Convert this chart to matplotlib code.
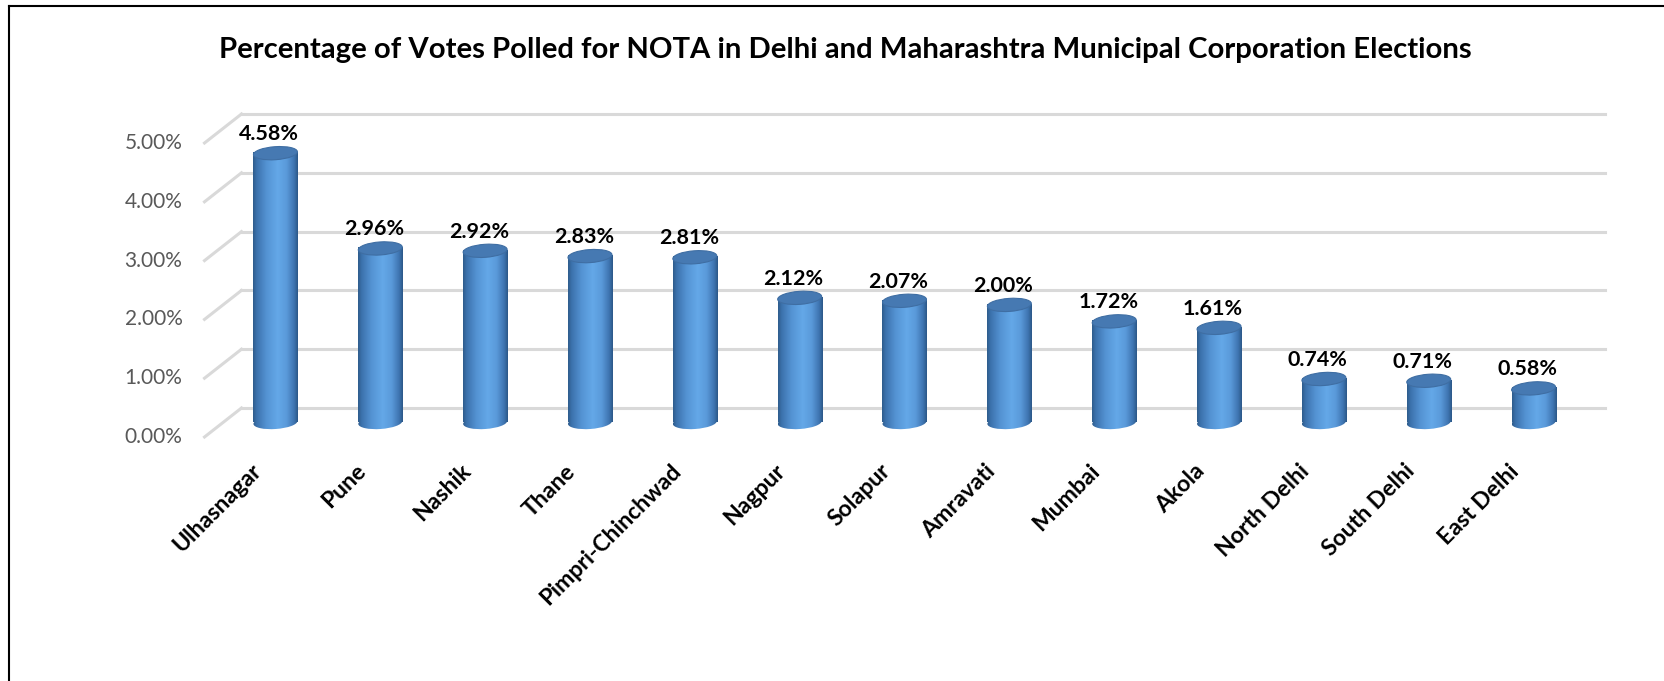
import numpy as np
import matplotlib
matplotlib.use("Agg")
import matplotlib.pyplot as plt
from matplotlib import transforms
from matplotlib.patches import Ellipse
from matplotlib.lines import Line2D

categories = ["Ulhasnagar", "Pune", "Nashik", "Thane", "Pimpri-Chinchwad", "Nagpur",
              "Solapur", "Amravati", "Mumbai", "Akola", "North Delhi", "South Delhi", "East Delhi"]
values = [4.58, 2.96, 2.92, 2.83, 2.81, 2.12, 2.07, 2.00, 1.72, 1.61, 0.74, 0.71, 0.58]
yticks = [0, 1, 2, 3, 4, 5]
ytick_labels = ["0.00%", "1.00%", "2.00%", "3.00%", "4.00%", "5.00%"]
title = "Percentage of Votes Polled for NOTA in Delhi and Maharashtra Municipal Corporation Elections"

plt.rcParams['font.family'] = ['Lato', 'DejaVu Sans']

W, H = 1664, 681
DPI = 100
fig = plt.figure(figsize=(W / DPI, H / DPI), dpi=DPI)
fig.patch.set_facecolor("white")
renderer = fig.canvas.get_renderer()


def fit_size(text, target_px, **kw):
    """Return a font size so that `text` is about target_px wide."""
    probe = fig.text(0, 0, text, fontsize=10, **kw)
    w = probe.get_window_extent(renderer).width
    probe.remove()
    return 10 * target_px / w


# axes in pixel coordinates (mid-depth plane); y range extended below 0 so the
# rounded cylinder bottoms stay inside the axes box
left_px, right_px = 223, 1586
y0_px, y5_px = 422.5, 128.5
px_per_unit_y = (y0_px - y5_px) / 5.0
y_min = -0.5
ybot_px = y0_px - y_min * px_per_unit_y
ax = fig.add_axes([left_px / W, (H - ybot_px) / H, (right_px - left_px) / W,
                   (ybot_px - y5_px) / H])
ax.set_xlim(-0.5, len(categories) - 0.5)
ax.set_ylim(y_min, 5)
ax.axis("off")

# depth offsets (pixels)
DX, DY = 18.5, 14.5
back = ax.transData + transforms.ScaledTranslation(DX / DPI, DY / DPI, fig.dpi_scale_trans)
front = ax.transData + transforms.ScaledTranslation(-DX / DPI, -DY / DPI, fig.dpi_scale_trans)

tick_fs = fit_size("5.00%", 58)
data_fs = fit_size("4.58%", 60, fontweight="bold")
cat_fs = fit_size("Pimpri-Chinchwad", 190, fontweight="bold")
title_fs = fit_size(title, 1256, fontweight="bold")

grid_col = "#d9d9d9"
x_lo, x_hi = -0.5, len(categories) - 0.5
for v, lab in zip(yticks, ytick_labels):
    ax.add_line(Line2D([x_lo, x_hi], [v, v], transform=back, color=grid_col, lw=2.2,
                       clip_on=False, zorder=1))
    p_front = front.transform((x_lo, v))
    p_back = back.transform((x_lo, v))
    fig.add_artist(Line2D([p_front[0] / W, p_back[0] / W], [p_front[1] / H, p_back[1] / H],
                          transform=fig.transFigure, color=grid_col, lw=2.2, zorder=1))
    lab_t = front + transforms.ScaledTranslation(-22 / DPI, 0, fig.dpi_scale_trans)
    ax.text(x_lo, v, lab, transform=lab_t, ha="right", va="center", fontsize=tick_fs,
            color="#595959", clip_on=False)

# cylinder drawing
bar_w = 0.42
ell_h_px = 13.0
grad_pos = np.array([0.0, 0.08, 0.3, 0.55, 0.75, 0.92, 1.0])
grad_cols = np.array([
    [0x2e, 0x5c, 0x8c],
    [0x3c, 0x72, 0xad],
    [0x54, 0x93, 0xd3],
    [0x64, 0xa8, 0xe8],
    [0x5a, 0x9a, 0xda],
    [0x3e, 0x74, 0xb0],
    [0x2c, 0x58, 0x88],
]) / 255.0
xs = np.linspace(0, 1, 120)
grad = np.stack([np.interp(xs, grad_pos, grad_cols[:, k]) for k in range(3)], axis=-1)
grad_img = np.repeat(grad[np.newaxis, :, :], 2, axis=0)

px_per_unit_x = (right_px - left_px) / (x_hi - x_lo)
ell_w_in = bar_w * px_per_unit_x / DPI
ell_h_in = ell_h_px / DPI
ell_h_data = ell_h_px / px_per_unit_y

for i, (cat, v) in enumerate(zip(categories, values)):
    x = i
    # bottom ellipse (gradient, clipped to an ellipse)
    bottom_t = fig.dpi_scale_trans + transforms.ScaledTranslation(x, 0, ax.transData)
    e_bot = Ellipse((0, 0), ell_w_in, ell_h_in, angle=4, transform=bottom_t)
    im_b = ax.imshow(grad_img, extent=(x - bar_w / 2, x + bar_w / 2, -ell_h_data, 0.02),
                     aspect="auto", zorder=3, interpolation="bilinear")
    im_b.set_clip_path(e_bot)
    # body
    ax.imshow(grad_img, extent=(x - bar_w / 2, x + bar_w / 2, 0, v), aspect="auto",
              zorder=3, interpolation="bilinear")
    # top ellipse
    top_t = fig.dpi_scale_trans + transforms.ScaledTranslation(x, v, ax.transData)
    e_top = Ellipse((0, 0), ell_w_in, ell_h_in, angle=4, transform=top_t,
                    facecolor="#4679b2", edgecolor="#3f6ea3", lw=0.8, zorder=4)
    ax.add_patch(e_top)
    # data label
    lab_t = ax.transData + transforms.ScaledTranslation(-6 / DPI, 13 / DPI, fig.dpi_scale_trans)
    ax.text(x, v, f"{v:.2f}%", transform=lab_t, ha="center", va="baseline",
            fontsize=data_fs, fontweight="bold", color="black", zorder=5, clip_on=False)
    # category label
    cat_t = ax.transData + transforms.ScaledTranslation(-25 / DPI, -38 / DPI, fig.dpi_scale_trans)
    ax.text(x, 0, cat, transform=cat_t, ha="right", va="top", rotation=45,
            rotation_mode="anchor", fontsize=cat_fs, fontweight="bold",
            color="black", clip_on=False)

ax.set_xlim(-0.5, len(categories) - 0.5)
ax.set_ylim(y_min, 5)

# title
fig.text(845 / W, 1 - 50 / H, title, ha="center", va="center", fontsize=title_fs,
         fontweight="bold", color="black")

# chart border (top and left)
fig.add_artist(Line2D([9 / W, 1.0], [1 - 6 / H, 1 - 6 / H], transform=fig.transFigure,
                      color="black", lw=1.5))
fig.add_artist(Line2D([9 / W, 9 / W], [0, 1 - 6 / H], transform=fig.transFigure,
                      color="black", lw=1.5))

fig.savefig("out.png", dpi=DPI, facecolor="white")
